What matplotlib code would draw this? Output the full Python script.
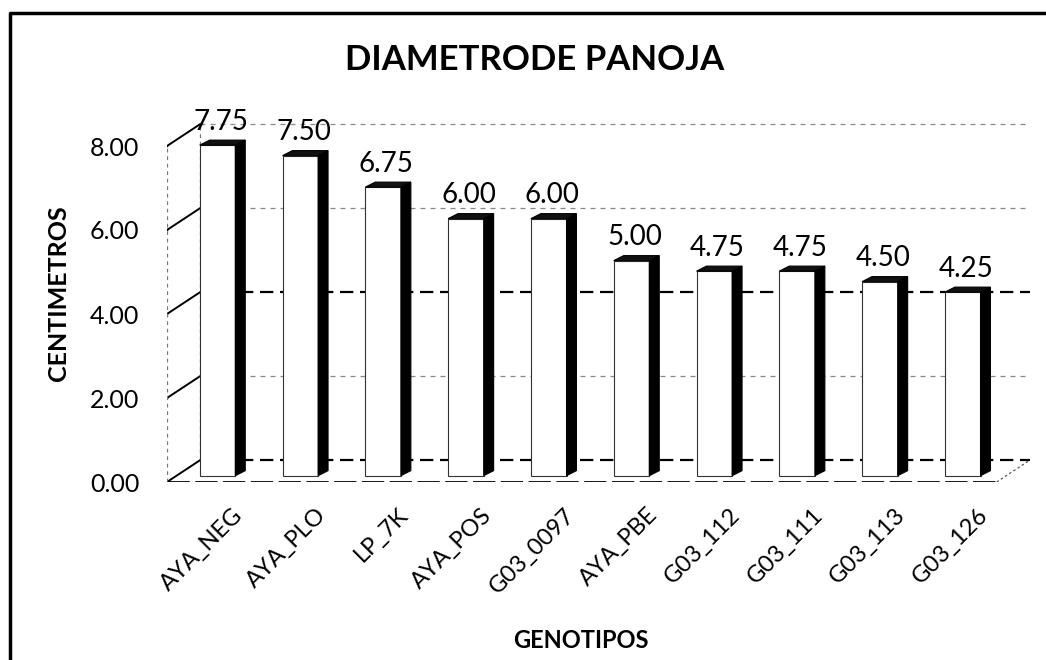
import numpy as np
import matplotlib
matplotlib.use("Agg")
import matplotlib.pyplot as plt
from matplotlib.patches import Polygon
from matplotlib.lines import Line2D

# Datos del grafico
genotipos = ["AYA_NEG", "AYA_PLO", "LP_7K", "AYA_POS", "G03_0097",
             "AYA_PBE", "G03_112", "G03_111", "G03_113", "G03_126"]
diametro = [7.75, 7.50, 6.75, 6.00, 6.00, 5.00, 4.75, 4.75, 4.50, 4.25]
y_ticks = [0, 2, 4, 6, 8]

plt.rcParams['font.family'] = ['Lato', 'DejaVu Sans']

W, H = 1046, 660
fig = plt.figure(figsize=(W / 100, H / 100), dpi=100)

# marco exterior (solo izquierda y arriba)
fig.add_artist(Line2D([10 / W, 10 / W, 1.0], [0.0, 1 - 13 / H, 1 - 13 / H],
                      color='black', lw=2.5, transform=fig.transFigure))

# area de trazado
ax = fig.add_axes([167 / W, (H - 482) / H, (1035 - 167) / W, 9 * 42 / H])
x = np.arange(len(genotipos))
ax.set_xlim(-0.61, 9.873)
ax.set_ylim(0, 9)
for s in ax.spines.values():
    s.set_visible(False)

# profundidad de la pared y de las barras (en unidades de datos)
wdx, wdy = 0.40, 0.52
bdx, bdy = 0.12, 0.12
x0 = -0.61
x_right = 9.41

# pared del fondo: lineas de division
for v in y_ticks:
    dark = v in (0, 4)
    ax.plot([x0 + wdx, x_right + wdx], [v + wdy, v + wdy],
            color='black' if dark else '#888888',
            lw=1.6 if dark else 0.9, ls=(0, (6, 3)) if dark else (0, (4, 4)),
            zorder=1)
    # diagonal de la pared izquierda
    ax.plot([x0, x0 + wdx], [v, v + wdy], color='black', lw=1.4, zorder=1)
    ax.plot([x0 - 0.05, x0], [v, v], color='black', lw=1.0, zorder=1)

# bordes verticales de la pared izquierda
ax.plot([x0, x0], [0, 8], color='#777777', lw=0.9, ls=(0, (3, 3)), zorder=1)
ax.plot([x0 + wdx, x0 + wdx], [wdy, 8 + wdy], color='#777777', lw=0.9,
        ls=(0, (3, 3)), zorder=1)

# suelo
ax.plot([x0, x_right], [0, 0], color='black', lw=2.0, ls=(0, (8, 2)), zorder=2)
ax.plot([x_right, x_right + wdx], [0, wdy], color='#555555', lw=0.9,
        ls=(0, (2, 2)), zorder=2)

# barras pseudo 3D
bw = 0.43
bottom = 0.15
tops = np.array(diametro) + 0.27
ax.bar(x, tops - bottom, width=bw, bottom=bottom, color='white',
       edgecolor='#333333', linewidth=0.8, zorder=4)
for xi, t in zip(x, tops):
    r = xi + bw / 2
    l = xi - bw / 2
    side = Polygon([(r, bottom), (r + bdx, bottom + bdy), (r + bdx, t + bdy),
                    (r, t)], closed=True, facecolor='black', edgecolor='black',
                   lw=0.8, zorder=5)
    top = Polygon([(l, t), (r, t), (r + bdx, t + bdy), (l + bdx, t + bdy)],
                  closed=True, facecolor='#111111', edgecolor='black',
                  lw=0.8, zorder=5)
    ax.add_patch(side)
    ax.add_patch(top)

# etiquetas de valor
for xi, t, v in zip(x, tops, diametro):
    ax.text(xi + 0.04, t + 0.25, f"{v:.2f}", ha='center', va='bottom',
            fontsize=20, zorder=6)

# ticks del eje Y
ax.set_yticks(y_ticks)
ax.set_yticklabels([f"{v:.2f}" for v in y_ticks], fontsize=18)
ax.tick_params(axis='y', length=0, pad=20)

# ticks del eje X
ax.set_xticks(x + 0.18)
ax.set_xticklabels(genotipos, rotation=45, ha='right', va='top',
                   rotation_mode='anchor', fontsize=17)
ax.tick_params(axis='x', length=0, pad=16)

ax.set_ylabel("CENTIMETROS", fontsize=18, fontweight='bold', labelpad=14)
fig.text(581 / W, 1 - 641 / H, "GENOTIPOS", ha='center', va='center',
         fontsize=17, fontweight='bold')
fig.text(535 / W, 1 - 60 / H, "DIAMETRODE PANOJA", ha='center', va='center',
         fontsize=25, fontweight='bold')

fig.savefig("out.png", dpi=100, facecolor='white')
